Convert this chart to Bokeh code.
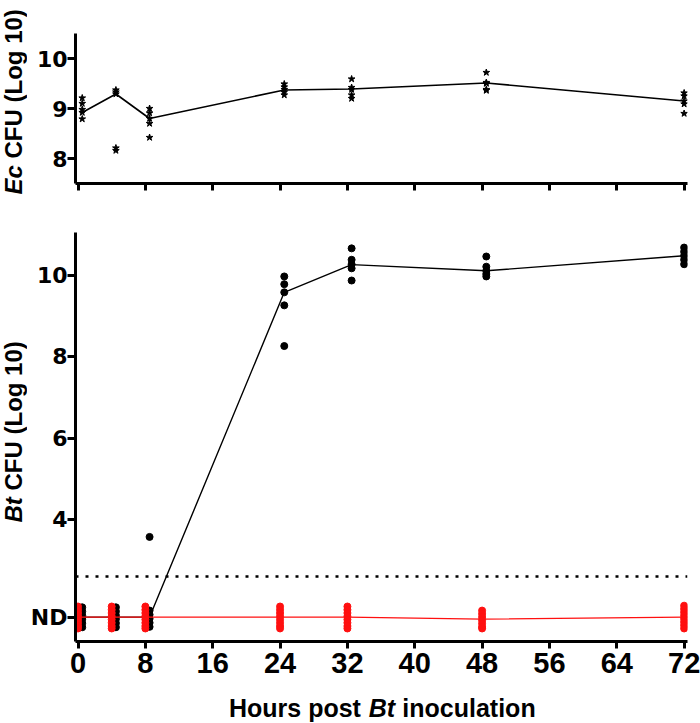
import math
from bokeh.plotting import figure
from bokeh.layouts import column, row
from bokeh.models import FixedTicker, CustomJSTickFormatter, Span, Label, Range1d
from bokeh.embed import file_html
from bokeh.resources import INLINE

# ---------------- data ----------------
hour_ticks = [0, 8, 16, 24, 32, 40, 48, 56, 64, 72]

# E. coli CFU (top panel), log10
ec_times = [0.5, 4.5, 8.5, 24.5, 32.5, 48.5, 72]
ec_values = [
    [9.21, 9.10, 8.98, 8.92, 8.79],
    [9.37, 9.33, 9.29, 8.21, 8.16],
    [9.00, 8.91, 8.80, 8.70, 8.42],
    [9.49, 9.43, 9.38, 9.33, 9.27],
    [9.59, 9.42, 9.38, 9.27, 9.20],
    [9.72, 9.52, 9.50, 9.38, 9.36],
    [9.31, 9.25, 9.15, 9.09, 8.90],
]
ec_line = [8.92, 9.29, 8.80, 9.37, 9.39, 9.51, 9.15]
ec_ticks = [8, 9, 10]

# B. thetaiotaomicron CFU (bottom panel), log10
ND = 1.6     # "not detected" level
LOD = 2.6    # limit of detection (dotted line)
bt_ticks = [ND, 4, 6, 8, 10]

bt_times = [0.5, 4.5, 8.5, 24.5, 32.5, 48.5, 72]
bt_values = [
    [1.84, 1.74, 1.64, 1.55, 1.45, 1.35],
    [1.84, 1.74, 1.64, 1.55, 1.45, 1.35],
    [3.57, 1.76, 1.66, 1.56, 1.46, 1.36],
    [9.97, 9.78, 9.58, 9.26, 8.26],
    [10.66, 10.38, 10.27, 10.17, 9.87],
    [10.46, 10.21, 10.11, 10.03, 9.97],
    [10.68, 10.58, 10.48, 10.38, 10.27],
]
bt_line = [1.6, 1.6, 1.6, 9.58, 10.26, 10.11, 10.48]

ctrl_times = [0, 4, 8, 24, 32, 48, 72]
ctrl_values = [
    [1.86, 1.78, 1.70, 1.62, 1.54, 1.46, 1.38, 1.32],
    [1.86, 1.78, 1.70, 1.62, 1.54, 1.46, 1.38, 1.32],
    [1.86, 1.78, 1.70, 1.62, 1.54, 1.46, 1.38, 1.32],
    [1.86, 1.78, 1.70, 1.62, 1.54, 1.46, 1.38, 1.32],
    [1.86, 1.78, 1.70, 1.62, 1.54, 1.46, 1.38, 1.32],
    [1.76, 1.68, 1.60, 1.52, 1.44, 1.36, 1.32],
    [1.88, 1.80, 1.72, 1.64, 1.56, 1.48, 1.40, 1.32],
]
ctrl_line = [1.6, 1.6, 1.6, 1.6, 1.6, 1.55, 1.6]


def flat(times, values):
    xs, ys = [], []
    for t, vals in zip(times, values):
        for v in vals:
            xs.append(t)
            ys.append(v)
    return xs, ys


# ---------------- layout constants (pixels) ----------------
TOTAL_W, TOTAL_H = 700, 723
TITLE_W = 27                      # strip holding the rotated y titles
MAIN_W = TOTAL_W - TITLE_W
X_START, X_END = -0.3, 72.4
LEFT, RIGHT = 46, 13
TOP_T, TOP_B, TOP_FIG_H = 33, 20, 203
BOT_T, BOT_B, BOT_FIG_H = 29, 48, 486
XT_H = TOTAL_H - TOP_FIG_H - BOT_FIG_H
TOP_Y = (7.5, 10.5)
BOT_Y = (1.0, 11.05)
RED = "#ff1010"
FONT = "Liberation Sans"
TICK_FONT_Y = "DejaVu Sans"
AXIS_NEED = 52                    # approx. width taken by the y axis
FRAME_L = TITLE_W + AXIS_NEED
PX_PER_H = (TOTAL_W - RIGHT - FRAME_L) / (X_END - X_START)

# em widths (Arial / Liberation Sans bold) used to join italic and upright pieces
EM_EC, EM_BT, EM_SP = 1.223, 1.055, 0.278
EM_HOURS_POST, EM_INOC = 5.278, 5.334
ASC, DESC = 0.905, 0.212


def style(p):
    p.xgrid.visible = False
    p.ygrid.visible = False
    p.outline_line_color = None
    p.background_fill_color = "white"
    p.border_fill_color = "white"
    for ax in (p.xaxis[0], p.yaxis[0]):
        ax.axis_line_width = 3
        ax.axis_line_color = "black"
        ax.major_tick_line_width = 3
        ax.major_tick_line_color = "black"
        ax.major_tick_in = 0
        ax.minor_tick_line_color = None
        ax.major_label_text_color = "black"
        ax.major_label_text_font_style = "bold"
        ax.axis_label_standoff = 0
    p.yaxis.major_tick_out = 8
    p.yaxis.major_label_standoff = 0
    p.xaxis.major_tick_out = 7
    p.xaxis.major_label_standoff = 4
    p.xaxis.ticker = FixedTicker(ticks=hour_ticks)
    p.yaxis.major_label_text_font = TICK_FONT_Y
    p.yaxis.major_label_text_font_size = "22px"
    p.xaxis.major_label_text_font = FONT
    p.xaxis.major_label_text_font_size = "29px"


def blank(f):
    f.grid.visible = False
    f.outline_line_color = None
    f.background_fill_color = "white"
    f.border_fill_color = "white"
    return f


def lab(p, x, y, text, size, fstyle, angle=0.0):
    p.add_layout(Label(x=x, y=y, text=text, angle=angle, text_font=FONT,
                       text_font_size=f"{size}px", text_font_style=fstyle,
                       text_baseline="middle", text_align="left",
                       text_color="black"))


# ---------------- top panel ----------------
top = figure(width=MAIN_W, height=TOP_FIG_H,
             x_range=Range1d(X_START, X_END), y_range=Range1d(*TOP_Y),
             output_backend="svg", toolbar_location=None,
             min_border_left=LEFT, min_border_right=RIGHT,
             min_border_top=TOP_T, min_border_bottom=TOP_B)
style(top)
top.yaxis.ticker = FixedTicker(ticks=ec_ticks)
top.xaxis.formatter = CustomJSTickFormatter(code="return '';")
top.xaxis.major_label_text_font_size = "0px"
top.xaxis.major_label_standoff = 0

top.line(ec_times, ec_line, line_color="black", line_width=1.6)
ex, ey = flat(ec_times, ec_values)
top.scatter(ex, ey, marker="star", size=7, fill_color="black", line_color="black")

# ---------------- bottom panel ----------------
bot = figure(width=MAIN_W, height=BOT_FIG_H,
             x_range=Range1d(X_START, X_END), y_range=Range1d(*BOT_Y),
             output_backend="svg", toolbar_location=None,
             min_border_left=LEFT, min_border_right=RIGHT,
             min_border_top=BOT_T, min_border_bottom=BOT_B)
style(bot)
bot.yaxis.ticker = FixedTicker(ticks=bt_ticks)
bot.yaxis.formatter = CustomJSTickFormatter(
    args=dict(nd=ND), code="return Math.abs(tick - nd) < 1e-6 ? 'ND' : tick.toFixed(0);")

bot.add_layout(Span(location=LOD, dimension="width", line_color="black",
                    line_width=2.5, line_dash="3 7"))

bot.line(bt_times, bt_line, line_color="black", line_width=1.4)
bx, by = flat(bt_times, bt_values)
bot.scatter(bx, by, marker="circle", size=7, fill_color="black", line_color="black")

bot.line(ctrl_times, ctrl_line, line_color=RED, line_width=1.4)
cx, cy = flat(ctrl_times, ctrl_values)
bot.scatter(cx, cy, marker="circle", size=7, fill_color=RED, line_color=RED)

# ---------------- y titles (rotated, italic organism names) ----------------
ytitles = blank(figure(width=TITLE_W, height=TOTAL_H,
                       x_range=Range1d(0, TITLE_W), y_range=Range1d(TOTAL_H, 0),
                       x_axis_location=None, y_axis_location=None,
                       output_backend="svg", toolbar_location=None,
                       min_border_left=0, min_border_right=0,
                       min_border_top=0, min_border_bottom=0))
ts = 24
base_x = TITLE_W - DESC * ts - 0.4
mid_x = base_x - (ASC - DESC) / 2 * ts
y0 = 194
lab(ytitles, mid_x, y0, "Ec", ts, "bold italic", math.pi / 2)
lab(ytitles, mid_x, y0 - (EM_EC + EM_SP) * ts, "CFU (Log 10)", ts, "bold", math.pi / 2)
y0 = 522
lab(ytitles, mid_x, y0, "Bt", ts, "bold italic", math.pi / 2)
lab(ytitles, mid_x, y0 - (EM_BT + EM_SP) * ts, "CFU (Log 10)", ts, "bold", math.pi / 2)

# ---------------- x title (frame aligned with the panels above, hour units) ----------------
xtitle = blank(figure(width=MAIN_W, height=XT_H,
                      x_range=Range1d(X_START, X_END), y_range=Range1d(XT_H, 0),
                      x_axis_location=None, y_axis_location=None,
                      output_backend="svg", toolbar_location=None,
                      min_border_left=LEFT, min_border_right=RIGHT,
                      min_border_top=0, min_border_bottom=0))
xs_ = 25
total_h = (EM_HOURS_POST + EM_SP + EM_BT + EM_SP + EM_INOC) * xs_ / PX_PER_H
center_h = 36.2
start = center_h - total_h / 2
mid_y = 716 - (TOP_FIG_H + BOT_FIG_H) - (ASC - DESC) / 2 * xs_
lab(xtitle, start, mid_y, "Hours post", xs_, "bold")
p2 = start + (EM_HOURS_POST + EM_SP) * xs_ / PX_PER_H
lab(xtitle, p2, mid_y, "Bt", xs_, "bold italic")
p3 = p2 + (EM_BT + EM_SP) * xs_ / PX_PER_H
lab(xtitle, p3, mid_y, "inoculation", xs_, "bold")

layout = row(ytitles, column(top, bot, xtitle))
open("out.html", "w").write(file_html(layout, INLINE))
